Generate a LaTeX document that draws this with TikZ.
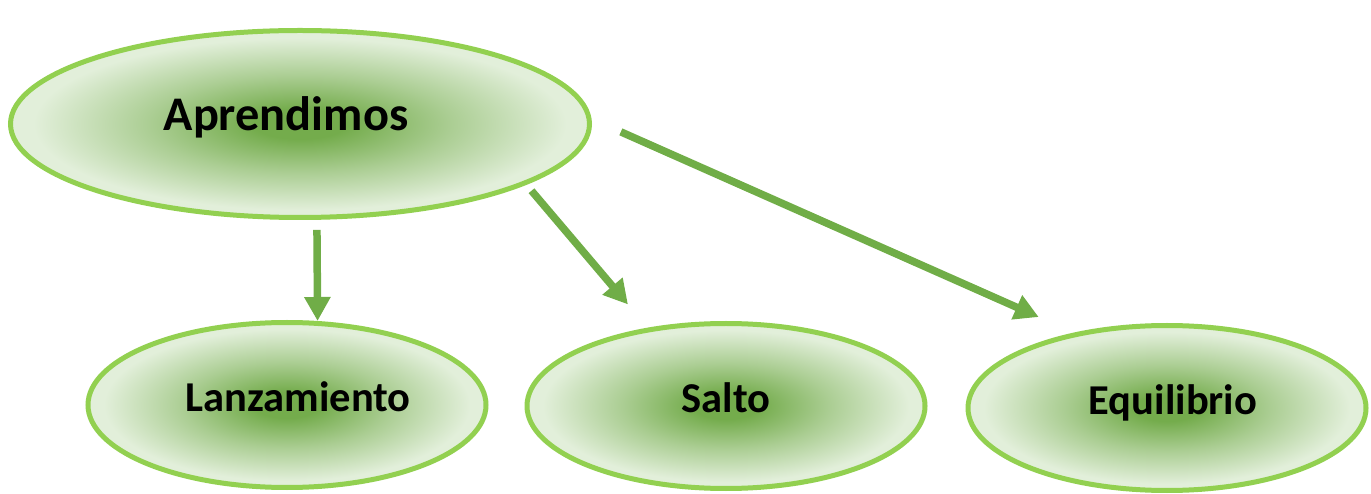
\documentclass[tikz,border=0pt]{standalone}
\usepackage{fontspec}
\setmainfont{Carlito}
\usetikzlibrary{shapes.geometric,arrows.meta}
\definecolor{leafline}{RGB}{146,208,80}
\definecolor{leafarrow}{RGB}{112,173,71}
\definecolor{leafin}{RGB}{116,172,76}
\definecolor{leafout}{RGB}{226,239,218}
\colorlet{leafmid}{leafin!50!leafout}
\pgfdeclareradialshading{leafglow}{\pgfpoint{0bp}{0bp}}{color(0bp)=(leafin); color(4bp)=(leafin); color(13bp)=(leafmid); color(23bp)=(leafout); color(50bp)=(leafout)}

\begin{document}
\begin{tikzpicture}[
    bubble/.style = {ellipse, draw=leafline, line width=0.1cm, shading=leafglow,
                     text height=0.7cm, text depth=0.45cm},
    arr/.style    = {leafarrow, line width=0.15cm, -{Triangle[width=0.5cm,length=0.48cm]}}]
    \useasboundingbox (0,0) rectangle (27.42,-9.88);
    \node[bubble, minimum width=11.58cm, minimum height=3.74cm, font=\fontsize{27.5}{30}\bfseries] (apr) at (6.0,-2.48) {\hspace*{-0.56cm}Aprendimos};
    \node[bubble, minimum width=7.96cm, minimum height=3.3cm, font=\fontsize{24.2}{26}\bfseries] (lan) at (5.74,-8.1) {\hspace*{0.44cm}Lanzamiento};
    \node[bubble, minimum width=7.96cm, minimum height=3.3cm, font=\fontsize{24.2}{26}\bfseries] (sal) at (14.52,-8.12) {Salto};
    \node[bubble, minimum width=7.96cm, minimum height=3.3cm, font=\fontsize{24.2}{26}\bfseries] (equ) at (23.34,-8.16) {\hspace*{0.24cm}Equilibrio};
    \draw[arr, shorten <=0.2cm] (apr.-80.2) -- (lan.70.8);
    \draw[arr, shorten <=0.16cm, shorten >=0.61cm] (apr.-15.5) -- (sal.135.4);
    \draw[arr, shorten <=0.64cm, shorten >=0.77cm] (apr.1.8) -- (equ.141);
\end{tikzpicture}
\end{document}
